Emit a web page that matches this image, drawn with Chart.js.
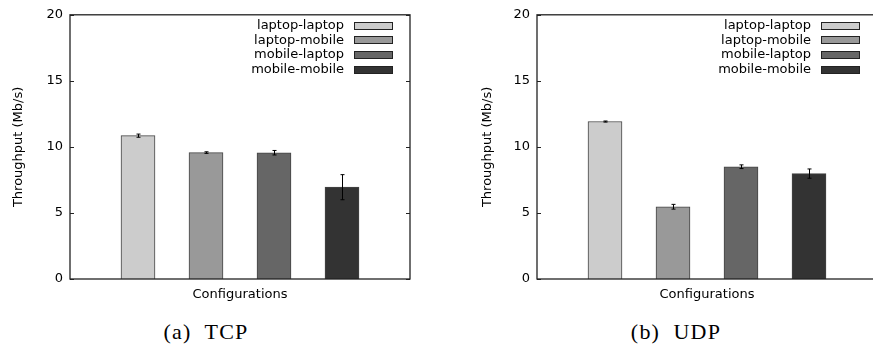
<!DOCTYPE html>
<html>
<head>
<meta charset="utf-8">
<script src="https://cdn.jsdelivr.net/npm/chart.js@4.4.1/dist/chart.umd.min.js"></script>
<style>
  html, body { margin: 0; padding: 0; background: #fff; overflow: hidden; }
  body { width: 873px; height: 349px; position: relative; }
  canvas { position: absolute; top: 0; }
  .cap { position: absolute; top: 319px; font-family: "Liberation Serif", serif; font-size: 22px;
         white-space: pre; transform: translateX(-50%); color: #000; letter-spacing: 1.2px; }
</style>
</head>
<body>
<canvas id="tcpChart" width="440" height="310" style="left:0"></canvas>
<canvas id="udpChart" width="440" height="310" style="left:440px"></canvas>
<div class="cap" style="left:206px">(a)  TCP</div>
<div class="cap" style="left:676px">(b)  UDP</div>
<script>
const configs = ["laptop-laptop", "laptop-mobile", "mobile-laptop", "mobile-mobile"];
const barColors = ["#cccccc", "#999999", "#666666", "#333333"];
const tcpValues = [10.85, 9.57, 9.56, 6.95];
const tcpErrors = [0.12, 0.06, 0.17, 0.95];
const udpValues = [11.92, 5.47, 8.5, 7.98];
const udpErrors = [0.04, 0.18, 0.14, 0.35];
const yTicks = [0, 5, 10, 15, 20];

const FONT = "DejaVu Sans";

// frame, inner ticks, error bars and legend drawn on top of the bars
const extrasPlugin = {
  id: "extras",
  afterDatasetsDraw(chart) {
    const { ctx, chartArea: a, scales: { y } } = chart;
    const errs = chart.options.plugins.extras.errors;
    ctx.save();
    // error bars
    ctx.strokeStyle = "#000";
    ctx.lineWidth = 1;
    chart.data.datasets.forEach((ds, i) => {
      const bar = chart.getDatasetMeta(i).data[0];
      if (!bar) return;
      const v = ds.data[0].y;
      const x = Math.round(bar.x) + 0.5;
      const yHi = y.getPixelForValue(v + errs[i]);
      const yLo = y.getPixelForValue(v - errs[i]);
      ctx.beginPath();
      ctx.moveTo(x, yHi); ctx.lineTo(x, yLo);
      ctx.moveTo(x - 2, yHi); ctx.lineTo(x + 2, yHi);
      ctx.moveTo(x - 2, yLo); ctx.lineTo(x + 2, yLo);
      ctx.stroke();
    });
    // frame
    ctx.strokeStyle = "#222";
    ctx.lineWidth = 1.3;
    ctx.strokeRect(a.left, a.top, a.right - a.left, a.bottom - a.top);
    // inner ticks, both sides
    ctx.lineWidth = 1;
    yTicks.forEach(t => {
      const py = Math.round(y.getPixelForValue(t)) + 0.5;
      ctx.beginPath();
      ctx.moveTo(a.left, py); ctx.lineTo(a.left + 4, py);
      ctx.moveTo(a.right, py); ctx.lineTo(a.right - 4, py);
      ctx.stroke();
    });
    // legend: text right aligned, then a box
    ctx.font = "13px '" + FONT + "'";
    ctx.textAlign = "right";
    ctx.textBaseline = "middle";
    chart.data.datasets.forEach((ds, i) => {
      const cy = a.top + 11 + i * 14.6;
      ctx.fillStyle = "#000";
      ctx.fillText(ds.label, a.right - 66, cy);
      ctx.fillStyle = ds.backgroundColor;
      ctx.fillRect(a.right - 56, Math.round(cy - 4), 39, 8);
      ctx.strokeStyle = "#222";
      ctx.strokeRect(a.right - 56 + 0.5, Math.round(cy - 4) + 0.5, 38, 7);
    });
    ctx.restore();
  }
};

function makeChart(id, values, errors, yAxisWidth, rightPad, titlePad) {
  const datasets = configs.map((label, i) => ({
    label,
    data: [{ x: i + 1, y: values[i] }],
    backgroundColor: barColors[i],
    borderColor: "#444",
    borderWidth: 1,
    borderSkipped: "bottom",
    barThickness: 34,
    grouped: false
  }));

  return new Chart(document.getElementById(id).getContext("2d"), {
    type: "bar",
    data: { datasets },
    options: {
      responsive: false,
      animation: false,
      layout: { padding: { top: 14, right: rightPad, left: 0, bottom: 0 } },
      plugins: {
        legend: { display: false },
        tooltip: { enabled: false },
        extras: { errors }
      },
      scales: {
        x: {
          type: "linear",
          min: 0,
          max: 5,
          offset: false,
          grid: { display: false, offset: false },
          border: { display: false },
          ticks: { display: false, stepSize: 1 },
          title: {
            display: true,
            text: "Configurations",
            color: "#000",
            font: { family: FONT, size: 13 },
            padding: { top: 0, bottom: 8 }
          },
          afterFit: s => { s.height = 31; }
        },
        y: {
          min: 0,
          max: 20,
          grid: { display: false, drawTicks: false },
          border: { display: false },
          afterBuildTicks: s => { s.ticks = yTicks.map(v => ({ value: v })); },
          ticks: {
            color: "#000",
            padding: 7,
            font: { family: FONT, size: 13 }
          },
          title: {
            display: true,
            text: "Throughput (Mb/s)",
            color: "#000",
            font: { family: FONT, size: 13 },
            padding: { top: titlePad, bottom: 0 }
          },
          afterFit: s => { s.width = yAxisWidth; }
        }
      }
    },
    plugins: [extrasPlugin]
  });
}

makeChart("tcpChart", tcpValues, tcpErrors, 70, 30, 11);
makeChart("udpChart", udpValues, udpErrors, 97, 3, 40);
</script>
</body>
</html>
